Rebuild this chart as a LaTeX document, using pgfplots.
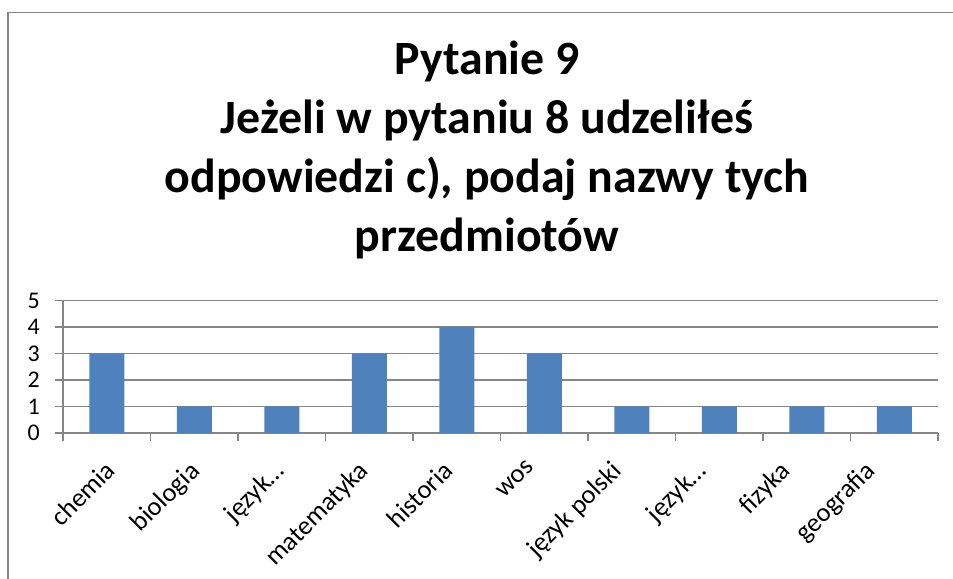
\documentclass[border=0pt]{standalone}
\usepackage{pgfplots}
\pgfplotsset{compat=1.18}
\usepackage{fontspec}
\setmainfont{Carlito}
\definecolor{barblue}{HTML}{4F81BD}
\definecolor{gridgray}{HTML}{868686}
\newcommand{\catfont}{\fontsize{26.5}{31}\selectfont}
\newcommand{\numfont}{\fontsize{24}{28}\selectfont}
\begin{document}
\begin{tikzpicture}[x=1bp,y=1bp]
\useasboundingbox (0,0) rectangle (953,579);
\draw[gridgray, line width=1.2bp] (8,-5) -- (8,566.5) -- (960,566.5);
\node[align=center, font=\fontsize{48}{59}\selectfont\bfseries] at (487,429) {Pytanie 9\\Jeżeli w pytaniu 8 udzeliłeś\\odpowiedzi c), podaj nazwy tych\\przedmiotów};
\begin{axis}[
  at={(63bp,146bp)}, anchor=south west,
  scale only axis, width=875bp, height=132.5bp,
  xmin=-0.5, xmax=9.5, ymin=0, ymax=5,
  ytick={0,1,2,3,4,5},
  xtick={-0.5,0.5,1.5,2.5,3.5,4.5,5.5,6.5,7.5,8.5,9.5},
  xticklabels={},
  extra x ticks={-0.035,0.929,1.894,2.859,3.823,4.788,5.752,6.717,7.682,8.646},
  extra x tick labels={chemia,biologia,język…,matematyka,historia,wos,język polski,język…,fizyka,geografia},
  extra x tick style={major tick length=0pt, xticklabel style={rotate=45, anchor=north east, inner sep=0pt, xshift=-18.5bp, yshift=-18.5bp, font=\catfont}},
  yticklabel style={inner sep=0pt, xshift=-15bp, font=\numfont},
  axis lines*=left,
  axis line style={gridgray, line width=1.2bp},
  tick style={gridgray, line width=1.2bp},
  tick align=outside,
  major tick length=8bp,
  ymajorgrids,
  grid style={gridgray, line width=1.2bp},
  /pgf/number format/assume math mode=true,
  ybar, bar width=0.4,
]
\addplot[fill=barblue, draw=none] coordinates {(0,3) (1,1) (2,1) (3,3) (4,4) (5,3) (6,1) (7,1) (8,1) (9,1)};
\end{axis}
\end{tikzpicture}
\end{document}
